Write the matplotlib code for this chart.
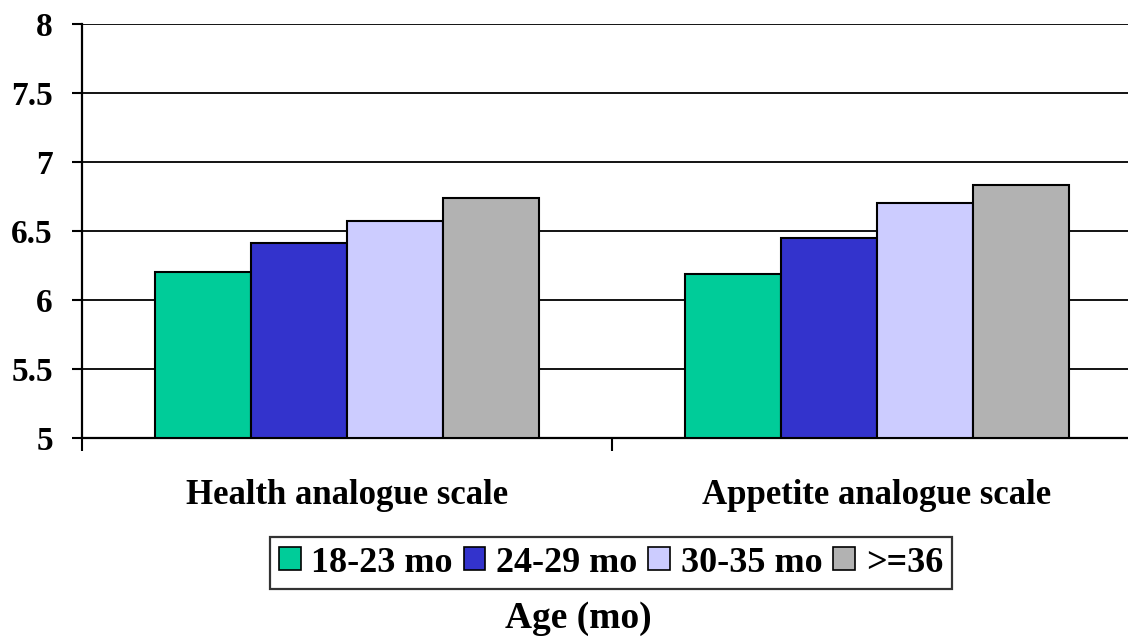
import matplotlib
matplotlib.use("Agg")
import matplotlib.pyplot as plt
import numpy as np

categories = ["Health analogue scale", "Appetite analogue scale"]
series_names = ["18-23 mo", "24-29 mo", "30-35 mo", ">=36"]
values_18_23 = [6.20, 6.19]
values_24_29 = [6.41, 6.45]
values_30_35 = [6.57, 6.70]
values_36 = [6.74, 6.83]
yticks = [5, 5.5, 6, 6.5, 7, 7.5, 8]
ytick_labels = ["5", "5.5", "6", "6.5", "7", "7.5", "8"]
xlabel = "Age (mo)"

colors = ["#00CC99", "#3333CC", "#CCCCFF", "#B2B2B2"]
series = [values_18_23, values_24_29, values_30_35, values_36]

plt.rcParams['font.family'] = ['Liberation Serif', 'DejaVu Serif']
plt.rcParams['font.weight'] = 'bold'

fig = plt.figure(figsize=(11.28, 6.37), dpi=100)
ax = fig.add_axes([82/1128, 1 - 437.7/637, 1060/1128, (437.7 - 24)/637])

x = np.arange(len(categories))
bw = 0.181
for i, (vals, c, name) in enumerate(zip(series, colors, series_names)):
    ax.bar(x + (i - 1.5) * bw, np.array(vals) - 5, bottom=5, width=bw, color=c,
           edgecolor='black', linewidth=1.5, label=name, zorder=3)

ax.set_xlim(-0.5, len(categories) - 0.5)
ax.set_ylim(5, 8)
ax.set_yticks(yticks)
ax.set_yticklabels(ytick_labels, fontsize=24, fontweight='bold')
ax.yaxis.grid(True, color='black', linewidth=1.3, zorder=0)
ax.tick_params(axis='y', direction='out', length=7, width=1.5, pad=14)

# category labels and separator ticks
ax.set_xticks(np.arange(-0.5, len(categories)), minor=False)
ax.set_xticklabels([])
ax.tick_params(axis='x', direction='out', length=9, width=1.5)
ax.set_xticks(x, minor=True)
ax.set_xticklabels(categories, minor=True, fontsize=25, fontweight='bold')
ax.tick_params(axis='x', which='minor', length=0, pad=30)

for s in ['top', 'right']:
    ax.spines[s].set_visible(False)
for s in ['left', 'bottom']:
    ax.spines[s].set_linewidth(1.6)

leg = fig.legend(loc='center', bbox_to_anchor=(611/1128, 1 - 563/637), ncol=4,
                 prop={'size': 26, 'weight': 'bold'}, frameon=True, fancybox=False,
                 edgecolor='black', handlelength=0.6, handleheight=0.6,
                 handletextpad=0.3, columnspacing=0.3, borderpad=0.25)
leg.get_frame().set_linewidth(1.6)
for h in leg.legend_handles:
    h.set_linewidth(1.2)

fig.text(578/1128, 1 - 618/637, xlabel, ha='center', va='center', fontsize=27, fontweight='bold')

fig.savefig("out.png", dpi=100)
